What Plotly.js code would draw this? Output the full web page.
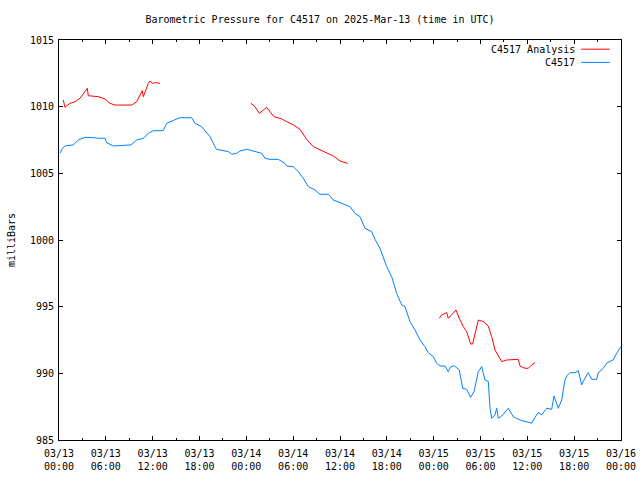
<!DOCTYPE html>
<html>
<head>
<meta charset="utf-8">
<script src="https://cdn.plot.ly/plotly-3.0.1.min.js"></script>
<style>html,body{margin:0;padding:0;background:#fff;}#chart{width:640px;height:480px;}</style>
</head>
<body>
<div id="chart"></div>
<script>
// hours after 2025-03-13 00:00 UTC
const stationHours = [0.13,0.43,0.85,1.83,2.47,3.33,4.4,5.03,5.89,6.11,6.96,9.22,9.95,10.8,11.44,12.08,13.36,13.8,14.77,15.5,17.0,17.42,18.28,18.92,19.34,19.98,20.2,21.69,22.12,22.77,23.19,24.05,25.11,25.97,26.39,27.03,28.1,28.95,29.17,30.02,30.66,31.3,31.94,32.8,33.44,34.5,35.14,36.0,36.64,37.28,37.92,38.56,39.2,40.06,40.48,41.12,41.98,42.62,43.26,43.9,44.33,44.97,45.61,46.25,46.89,47.31,47.95,48.39,48.81,49.45,49.87,50.18,50.64,51.28,51.72,52.23,52.74,53.17,53.72,54.15,54.58,55.0,55.22,55.43,55.86,56.07,56.28,56.71,57.56,58.2,59.27,60.34,60.56,60.98,61.4,61.84,62.48,63.12,63.42,63.97,64.4,64.82,65.04,65.46,66.1,66.53,66.96,67.38,67.81,68.24,68.88,69.09,69.73,70.24,71.0,71.44,72.0];
const stationMb = [1006.5,1006.88,1007.07,1007.13,1007.5,1007.7,1007.68,1007.63,1007.63,1007.3,1007.05,1007.13,1007.5,1007.63,1008.0,1008.2,1008.2,1008.75,1009.0,1009.17,1009.17,1008.75,1008.5,1008.0,1007.75,1007.0,1006.8,1006.63,1006.43,1006.5,1006.68,1006.8,1006.63,1006.5,1006.13,1006.05,1006.05,1005.75,1005.55,1005.5,1005.12,1004.63,1004.0,1003.75,1003.43,1003.43,1003.0,1002.83,1002.65,1002.5,1002.0,1001.75,1000.88,1000.63,1000.05,999.38,998.0,997.25,996.0,995.13,995.0,993.88,993.25,992.5,992.0,991.55,991.25,990.75,990.55,990.55,990.12,990.5,990.57,990.25,988.88,988.8,988.2,988.63,990.12,990.5,989.5,989.38,987.38,986.63,986.88,987.38,986.63,986.8,987.38,986.75,986.45,986.3,986.25,986.7,987.05,986.88,987.38,987.3,988.3,987.38,988.0,989.5,989.8,990.05,990.05,990.2,989.13,989.63,990.05,989.55,989.55,990.05,990.38,990.8,991.0,991.5,992.0];

const analysisHours = [0.55,0.77,1.41,2.05,2.69,3.11,3.63,3.75,4.61,5.03,5.89,6.53,7.17,9.31,9.95,10.38,10.67,10.8,11.02,11.44,11.66,11.95,12.3,12.94,18,
  24.6,25.11,25.66,26.6,27.54,28.53,29.17,30.02,30.88,31.73,32.58,33.44,34.3,35.14,36.0,36.98,42,
  48.72,49.03,49.67,49.87,50.3,50.86,51.28,51.8,52.23,52.74,53.0,53.72,54.36,55.0,55.43,55.86,56.71,57.35,58.84,59.06,59.7,60.13,60.56,60.98];
const analysisMb = [1010.5,1009.95,1010.25,1010.37,1010.63,1011.0,1011.38,1010.82,1010.75,1010.75,1010.58,1010.25,1010.12,1010.12,1010.37,1010.87,1011.2,1010.75,1011.12,1011.75,1011.92,1011.75,1011.8,1011.75,null,
  1010.25,1010.0,1009.5,1009.95,1009.25,1009.08,1008.88,1008.63,1008.3,1007.55,1007.0,1006.75,1006.55,1006.3,1005.93,1005.75,null,
  994.13,994.38,994.55,994.13,994.4,994.75,994.13,993.5,993.13,992.2,992.2,994.0,993.88,993.55,992.75,991.75,990.88,991.0,991.05,990.55,990.38,990.38,990.63,990.8];

const seriesNames = ['C4517 Analysis', 'C4517'];
const seriesColors = ['#ff0000', '#0080ff'];
const titleText = 'Barometric Pressure for C4517 on 2025-Mar-13 (time in UTC)';
const yTitle = 'milliBars';
const startMs = Date.UTC(2025, 2, 13);

function toDate(h) {
  return new Date(startMs + h * 3600000).toISOString().replace('T', ' ').slice(0, 19);
}

const font = {family: 'DejaVu Sans Mono, Liberation Mono, monospace', size: 10, color: '#000'};

const traces = [
  {x: analysisHours.map(toDate), y: analysisMb, name: seriesNames[0], mode: 'lines', connectgaps: false,
   line: {color: seriesColors[0], width: 1}, showlegend: false},
  {x: stationHours.map(toDate), y: stationMb, name: seriesNames[1], mode: 'lines',
   line: {color: seriesColors[1], width: 1}, showlegend: false}
];

const legendY = [0.977, 0.944];
const annotations = seriesNames.map((n, i) => ({
  xref: 'paper', yref: 'paper', x: 0.922, y: legendY[i], xanchor: 'right', yanchor: 'middle',
  text: n, showarrow: false, font: font
}));
const shapes = seriesNames.map((n, i) => ({
  type: 'line', xref: 'paper', yref: 'paper', x0: 0.929, x1: 0.980,
  y0: legendY[i], y1: legendY[i], line: {color: seriesColors[i], width: 1}
}));

const layout = {
  width: 640, height: 480,
  margin: {l: 59, r: 19, t: 40, b: 40},
  paper_bgcolor: '#fff', plot_bgcolor: '#fff',
  font: font,
  title: {text: titleText, font: font, x: 0.5, xanchor: 'center', y: 0.96, yanchor: 'middle'},
  showlegend: false,
  xaxis: {
    type: 'date', range: [toDate(0), toDate(72)],
    tick0: toDate(0), dtick: 6 * 3600000, tickformat: '%m/%d<br>%H:%M',
    ticks: 'inside', ticklen: 4, tickcolor: '#000', tickwidth: 1,
    ticklabelstandoff: 4,
    minor: {dtick: 3 * 3600000, ticks: 'inside', ticklen: 2, tickcolor: '#000', showgrid: false},
    showline: true, linecolor: '#000', linewidth: 1, mirror: 'allticks',
    showgrid: false, zeroline: false, tickfont: font
  },
  yaxis: {
    range: [985, 1015], dtick: 5, tick0: 985,
    ticks: 'inside', ticklen: 4, tickcolor: '#000', tickwidth: 1,
    ticklabelstandoff: 2,
    showline: true, linecolor: '#000', linewidth: 1, mirror: 'allticks',
    showgrid: false, zeroline: false, tickfont: font,
    title: {text: yTitle, font: font, standoff: 12}
  },
  annotations: annotations,
  shapes: shapes
};

Plotly.newPlot('chart', traces, layout, {staticPlot: true, displayModeBar: false});
</script>
</body>
</html>
